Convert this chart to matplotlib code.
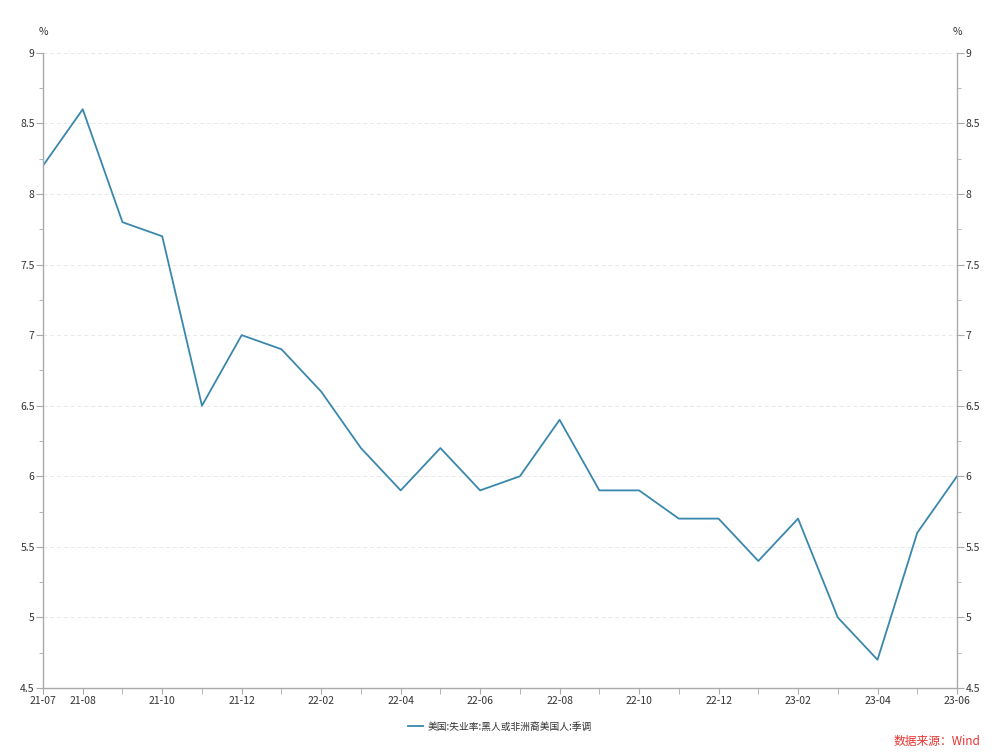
import matplotlib
matplotlib.use("Agg")
import matplotlib.pyplot as plt
from matplotlib.ticker import MultipleLocator, FixedLocator

plt.rcParams['font.family'] = ['Noto Sans CJK SC', 'DejaVu Sans']

# data
months = ['21-07', '21-08', '21-09', '21-10', '21-11', '21-12',
          '22-01', '22-02', '22-03', '22-04', '22-05', '22-06',
          '22-07', '22-08', '22-09', '22-10', '22-11', '22-12',
          '23-01', '23-02', '23-03', '23-04', '23-05', '23-06']
rate = [8.2, 8.6, 7.8, 7.7, 6.5, 7.0,
        6.9, 6.6, 6.2, 5.9, 6.2, 5.9,
        6.0, 6.4, 5.9, 5.9, 5.7, 5.7,
        5.4, 5.7, 5.0, 4.7, 5.6, 6.0]
shown_labels = ['21-07', '21-08', '21-10', '21-12', '22-02', '22-04', '22-06',
                '22-08', '22-10', '22-12', '23-02', '23-04', '23-06']
series_name = '美国:失业率:黑人或非洲裔美国人:季调'

fig = plt.figure(figsize=(10, 7.54), dpi=100)
ax = fig.add_axes([0.043, 0.0875, 0.914, 0.8425])

x = list(range(len(months)))
line, = ax.plot(x, rate, color='#3a87ad', lw=1.3, label=series_name)

ax.set_xlim(0, len(months) - 1)
ax.set_ylim(4.5, 9)

spine_c = '#aaaaaa'
text_c = '#333333'
ax.spines['top'].set_visible(False)
for s in ['left', 'bottom', 'right']:
    ax.spines[s].set_color(spine_c)
    ax.spines[s].set_linewidth(1)

# x ticks
ax.xaxis.set_major_locator(FixedLocator([months.index(m) for m in shown_labels]))
ax.set_xticklabels(shown_labels)
ax.xaxis.set_minor_locator(FixedLocator(x))
ax.tick_params(axis='x', which='both', direction='out', length=4, color=spine_c,
               labelsize=7.5, labelcolor=text_c, pad=2)

# y ticks both sides
ax.yaxis.set_major_locator(MultipleLocator(0.5))
ax.yaxis.set_minor_locator(MultipleLocator(0.25))
ax.yaxis.set_major_formatter(plt.FuncFormatter(lambda v, p: f'{v:g}'))
ax.tick_params(axis='y', which='major', direction='out', length=5, color=spine_c,
               labelsize=7.5, labelcolor=text_c, pad=1, left=True, right=True,
               labelleft=True, labelright=True)
ax.tick_params(axis='y', which='minor', direction='out', length=3, color=spine_c,
               left=True, right=True)

ax.grid(axis='y', which='major', color='#e8e8e8', linestyle=(0, (4, 3)), lw=0.7)
ax.set_axisbelow(True)

ax.text(0, 1.025, '%', transform=ax.transAxes, fontsize=7.5, color=text_c, ha='center', va='bottom')
ax.text(1, 1.025, '%', transform=ax.transAxes, fontsize=7.5, color=text_c, ha='center', va='bottom')

fig.legend(handles=[line], loc='center', bbox_to_anchor=(0.5, 0.036), frameon=False,
           fontsize=7, labelcolor=text_c, handlelength=1.6, handletextpad=0.5)

fig.text(0.98, 0.017, '数据来源：Wind', color='#e8332f', fontsize=8.5, ha='right', va='center')

fig.savefig('out.png', dpi=100)
